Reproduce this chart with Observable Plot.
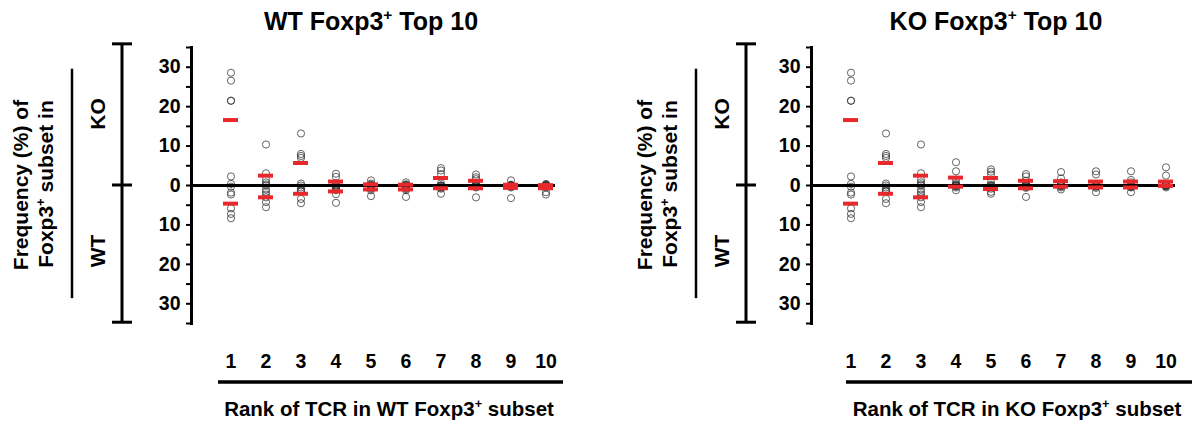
<!DOCTYPE html>
<html><head><meta charset="utf-8">
<script src="https://cdn.jsdelivr.net/npm/d3@7"></script>
<script src="https://cdn.jsdelivr.net/npm/@observablehq/plot@0.6"></script>
<style>
body{margin:0;background:#fff;}
#wrap{position:relative;width:1196px;height:425px;overflow:hidden;background:#fff;}
#wrap svg{position:absolute;top:0;overflow:visible;}
#wrap svg text{font-family:"Liberation Sans",Arial,Helvetica,sans-serif;font-weight:bold;}
</style></head><body><div id="wrap"></div>
<script>
const ranks = [1, 2, 3, 4, 5, 6, 7, 8, 9, 10];

// Left panel: WT Foxp3+ Top 10 (KO frequencies plotted up, WT plotted down)
const wtTopKO = [
  [28.6, 26.6, 21.5, 21.5, 2.3, 0.4],
  [10.4, 3.1, 1.5, 0.8, 0.3, 0],
  [13.2, 8.0, 7.5, 7.0, 0.5, 0],
  [3.0, 2.2, 0.6, 0.3, 0, 0],
  [1.3, 0.5, 0.2, 0, 0, 0],
  [0.8, 0.3, 0.1, 0, 0, 0],
  [4.4, 3.8, 2.9, 0.5, 0, 0],
  [2.8, 2.1, 1.6, 0.5, 0.2, 0],
  [1.3, 0.2, 0, 0, 0, 0],
  [0.4, 0.2, 0.1, 0, 0, 0]
];
const wtTopWT = [
  [0.3, 1.8, 2.3, 5.8, 7.2, 8.3],
  [1.0, 1.7, 2.3, 3.0, 4.2, 5.5],
  [0.5, 1.0, 1.3, 1.5, 3.4, 4.5],
  [0.3, 0.5, 1.0, 1.2, 2.2, 4.4],
  [0.2, 0.4, 0.6, 0.8, 1.2, 2.7],
  [0.3, 0.5, 0.7, 0.9, 1.2, 2.9],
  [0.1, 0.2, 0.4, 0.6, 0.8, 2.1],
  [0, 0.1, 0.2, 0.3, 0.5, 3.0],
  [0, 0.1, 0.2, 0.3, 0.5, 3.2],
  [0.1, 0.2, 0.3, 0.5, 1.7, 2.3]
];
const wtTopKOMean = [16.6, 2.5, 5.7, 1.0, 0.3, 0.2, 1.9, 1.2, 0.2, 0.1];
const wtTopWTMean = [4.6, 3.0, 2.1, 1.5, 1.0, 1.0, 0.7, 0.7, 0.6, 0.7];

// Right panel: KO Foxp3+ Top 10
const koTopKO = [
  [28.6, 26.6, 21.5, 21.5, 2.3, 0.4],
  [13.2, 8.0, 7.5, 7.0, 0.5, 0],
  [10.4, 3.1, 1.5, 0.8, 0.3, 0],
  [5.9, 3.6, 1.5, 0.6, 0.3, 0],
  [4.1, 3.5, 2.8, 0.8, 0.2, 0],
  [2.9, 2.3, 1.2, 0.5, 0.3, 0],
  [3.4, 1.8, 0.8, 0.4, 0.2, 0],
  [3.6, 2.8, 0.3, 0, 0, 0],
  [3.6, 1.4, 0.8, 0.2, 0, 0],
  [4.6, 2.5, 0.3, 0, 0, 0]
];
const koTopWT = [
  [0.3, 1.8, 2.3, 5.8, 7.2, 8.3],
  [0.5, 1.0, 1.3, 1.5, 3.4, 4.5],
  [1.0, 1.7, 2.3, 3.0, 4.2, 5.5],
  [0, 0, 0.1, 0.2, 0.5, 1.2],
  [0.1, 0.3, 0.5, 0.8, 1.6, 2.1],
  [0, 0.1, 0.2, 0.4, 0.6, 2.9],
  [0, 0, 0.1, 0.2, 0.5, 1.0],
  [0, 0.1, 0.2, 0.3, 0.6, 1.7],
  [0, 0.1, 0.2, 0.4, 0.5, 1.7],
  [0, 0, 0, 0.1, 0.2, 0.5]
];
const koTopKOMean = [16.6, 5.7, 2.5, 2.0, 1.9, 1.2, 1.1, 1.0, 1.0, 1.0];
const koTopWTMean = [4.6, 2.1, 3.0, 0.3, 0.9, 0.7, 0.3, 0.5, 0.5, 0.1];

const yTicks = [-35, -30, -25, -20, -15, -10, -5, 0, 5, 10, 15, 20, 25, 30, 35];

const panels = [
  {title: ["WT Foxp3", "+", " Top 10"], xTitle: ["Rank of TCR in WT Foxp3", "+", " subset"],
   ko: wtTopKO, wt: wtTopWT, koMean: wtTopKOMean, wtMean: wtTopWTMean,
   left: 0, width: 598, titleX: 371, xTitleX: 389, baseLine: [218, 563], dx: 0},
  {title: ["KO Foxp3", "+", " Top 10"], xTitle: ["Rank of TCR in KO Foxp3", "+", " subset"],
   ko: koTopKO, wt: koTopWT, koMean: koTopKOMean, wtMean: koTopWTMean,
   left: 620, width: 576, titleX: 376, xTitleX: 397, baseLine: [226, 572], dx: 4}
];

const RED = "#e8282b";
const wrap = document.getElementById("wrap");

function supText(g, parts, x, y, size, attrs = {}) {
  const t = g.append("text").attr("x", x).attr("y", y).attr("font-size", size)
    .attr("text-anchor", "middle").attr("fill", "#000");
  for (const [k, v] of Object.entries(attrs)) t.attr(k, v);
  t.append("tspan").text(parts[0]);
  t.append("tspan").attr("dy", -size * 0.38).attr("font-size", size * 0.62).text(parts[1]);
  t.append("tspan").attr("dy", size * 0.38).text(parts[2]);
  return t;
}

for (const p of panels) {
  const ko = p.ko.flatMap((vals, i) => vals.map(v => ({rank: ranks[i], value: v})));
  const wt = p.wt.flatMap((vals, i) => vals.map(v => ({rank: ranks[i], value: -v})));
  const koM = p.koMean.map((v, i) => ({rank: ranks[i], value: v}));
  const wtM = p.wtMean.map((v, i) => ({rank: ranks[i], value: -v}));

  const plot = Plot.plot({
    width: p.width,
    height: 425,
    marginTop: 47,
    marginBottom: 102,
    marginLeft: 191,
    marginRight: p.width - 555,
    style: {background: "transparent", fontFamily: "Liberation Sans, Arial, sans-serif", color: "#000"},
    x: {type: "band", domain: ranks, range: [210.3, 564.7], paddingInner: 0.58, paddingOuter: 0.29},
    y: {domain: [-35, 35]},
    marks: [
      Plot.frame({anchor: "left", strokeWidth: 3}),
      Plot.axisY({ticks: yTicks, tickFormat: d => d % 10 === 0 ? String(Math.abs(d)) : "",
        tickSize: 5, tickPadding: 6, fontSize: 19.5, fontWeight: "bold", strokeWidth: 2, label: null}),
      Plot.axisX({tickSize: 0, tickPadding: 31, fontSize: 19.5, fontWeight: "bold", label: null}),
      Plot.dot(ko, {x: "rank", y: "value", r: 3.6, stroke: "#333", strokeWidth: 0.75}),
      Plot.dot(wt, {x: "rank", y: "value", r: 3.6, stroke: "#333", strokeWidth: 0.75}),
      Plot.ruleY([0], {strokeWidth: 3}),
      Plot.tickY(koM, {x: "rank", y: "value", stroke: RED, strokeWidth: 4}),
      Plot.tickY(wtM, {x: "rank", y: "value", stroke: RED, strokeWidth: 4})
    ]
  });
  plot.style.left = p.left + "px";
  wrap.appendChild(plot);

  const ys = plot.scale("y");
  const g = d3.select(plot).append("g").attr("stroke", "#000").attr("fill", "none");
  const bx = 122 + p.dx;
  const yTop = ys.apply(35.8), yMid = ys.apply(0), yBot = ys.apply(-34.8);
  // bracket
  g.append("line").attr("x1", bx).attr("x2", bx).attr("y1", yTop).attr("y2", yBot).attr("stroke-width", 3);
  for (const yy of [yTop, yMid, yBot]) {
    g.append("line").attr("x1", bx - 10).attr("x2", bx + 10).attr("y1", yy).attr("y2", yy).attr("stroke-width", 3);
  }
  // vertical line beside the y label
  const vx = 72 + p.dx;
  g.append("line").attr("x1", vx).attr("x2", vx).attr("y1", ys.apply(29.5)).attr("y2", ys.apply(-28.7)).attr("stroke-width", 2.5);
  // bottom line below rank labels
  g.append("line").attr("x1", p.baseLine[0]).attr("x2", p.baseLine[1]).attr("y1", 382).attr("y2", 382).attr("stroke-width", 3.5);

  const tg = d3.select(plot).append("g");
  // titles
  supText(tg, p.title, p.titleX, 29.5, 25);
  supText(tg, p.xTitle, p.xTitleX, 416, 20.5);
  // rotated y labels
  const rot = (x, y, s, size, parts) => {
    if (parts) {
      supText(tg, parts, 0, 0, size, {transform: `translate(${x},${y}) rotate(-90)`});
    } else {
      tg.append("text").attr("transform", `translate(${x},${y}) rotate(-90)`)
        .attr("text-anchor", "middle").attr("font-size", size).attr("fill", "#000").text(s);
    }
  };
  rot(28 + p.dx, 185, "Frequency (%) of", 21);
  rot(53 + p.dx, 184, null, 21, ["Foxp3", "+", " subset in"]);
  rot(105 + p.dx, 114, "KO", 21);
  rot(105 + p.dx, 251, "WT", 21);
}
</script>
</body></html>
